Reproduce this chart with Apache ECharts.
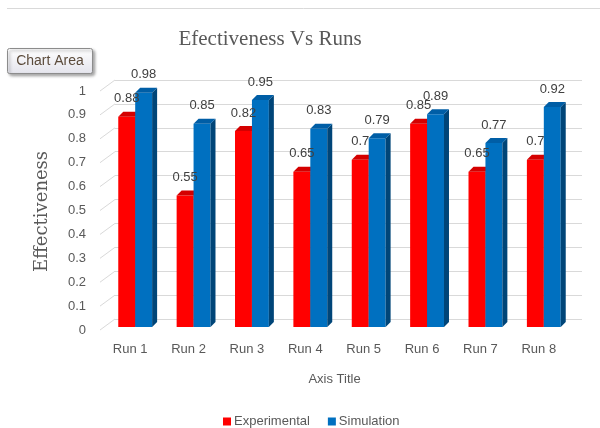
<!DOCTYPE html>
<html>
<head>
<meta charset="utf-8">
<script src="https://cdn.jsdelivr.net/npm/echarts@6/dist/echarts.min.js"></script>
<style>
  html, body { margin: 0; padding: 0; background: #fff; }
  #chart { width: 600px; height: 428px; }
</style>
</head>
<body>
<div id="chart"></div>
<script>
const categories = ['Run 1', 'Run 2', 'Run 3', 'Run 4', 'Run 5', 'Run 6', 'Run 7', 'Run 8'];
const experimental = [0.88, 0.55, 0.82, 0.65, 0.7, 0.85, 0.65, 0.7];
const simulation = [0.98, 0.85, 0.95, 0.83, 0.79, 0.89, 0.77, 0.92];
const yTicks = [0, 0.1, 0.2, 0.3, 0.4, 0.5, 0.6, 0.7, 0.8, 0.9, 1];

const font = 'Liberation Sans, Arial, sans-serif';
const DX = 9, DY = 8, DEPTH = 5;

// 3d-ish column, value is read on the back wall, front face pushed down/left
function bar3d(front, top, side, pos) {
  return function (params, api) {
    const idx = api.value(0);
    const v = api.value(1);
    const p = api.coord([idx, v]);
    const base = api.coord([idx, 0]);
    const band = api.size([1, 0])[0];
    const w = band * 0.29;
    const cx = p[0] - DX;
    const x0 = pos === 0 ? cx - w : cx;
    const x1 = x0 + w;
    const yt = p[1] + DY;
    const yb = base[1] + DY;
    return {
      type: 'group',
      children: [
        { type: 'rect', shape: { x: x0, y: yt, width: w, height: yb - yt }, style: { fill: front } },
        { type: 'polygon', shape: { points: [[x1, yt], [x1 + DEPTH, yt - DEPTH], [x1 + DEPTH, yb - DEPTH], [x1, yb]] }, style: { fill: side } },
        { type: 'polygon', shape: { points: [[x0, yt], [x1, yt], [x1 + DEPTH, yt - DEPTH], [x0 + DEPTH, yt - DEPTH]] }, style: { fill: top } },
        { type: 'text', z2: 10, style: { text: String(v), x: x0 + w / 2, y: p[1] - 10, align: 'center', verticalAlign: 'middle', fill: '#404040', font: '13px ' + font } }
      ]
    };
  };
}

const chart = echarts.init(document.getElementById('chart'));
chart.setOption({
  backgroundColor: '#fff',
  animation: false,
  title: {
    text: 'Efectiveness Vs Runs',
    left: 265,
    top: 24,
    textAlign: 'center',
    textStyle: { fontFamily: 'Liberation Serif, Times New Roman, serif', fontSize: 21, fontWeight: 'normal', color: '#595959' }
  },
  legend: {
    data: ['Experimental', 'Simulation'],
    left: 218,
    top: 410,
    icon: 'rect',
    itemWidth: 8,
    itemHeight: 8,
    itemGap: 18,
    textStyle: { fontFamily: font, fontSize: 13, color: '#595959', padding: [0, 0, 0, -2] }
  },
  grid: { left: 115, right: 18, top: 80, bottom: 109 },
  xAxis: {
    type: 'category',
    data: categories,
    name: 'Axis Title',
    nameLocation: 'middle',
    nameGap: 54,
    nameTextStyle: { fontFamily: font, fontSize: 13, color: '#595959', padding: [0, 28, 0, 0] },
    axisLine: { show: false },
    axisTick: { show: false },
    axisLabel: { margin: 24, fontFamily: font, fontSize: 13, color: '#595959', padding: [0, 28, 0, 0] }
  },
  yAxis: {
    type: 'value',
    min: 0,
    max: 1,
    interval: 0.1,
    name: 'Effectiveness',
    nameLocation: 'middle',
    nameGap: 64,
    nameTextStyle: { fontFamily: 'DejaVu Serif, serif', fontSize: 18, color: '#595959', padding: [0, 24, 0, 0] },
    axisLine: { show: false },
    axisTick: { show: false },
    axisLabel: { show: false },
    splitLine: { lineStyle: { color: '#D9D9D9', width: 1 } }
  },
  graphic: [
    { type: 'line', shape: { x1: 7, y1: 8.5, x2: 600, y2: 8.5 }, style: { stroke: '#D9D9D9', lineWidth: 1 } },
    {
      type: 'group', left: 7, top: 48,
      children: [
        { type: 'rect', shape: { x: 0, y: 0, width: 85, height: 25, r: 2 },
          style: { fill: new echarts.graphic.LinearGradient(0, 0, 0, 1, [{ offset: 0, color: '#ffffff' }, { offset: 1, color: '#E4E4EC' }]),
            stroke: '#8C8C8C', lineWidth: 1, shadowBlur: 3, shadowOffsetX: 2, shadowOffsetY: 2, shadowColor: 'rgba(0,0,0,0.35)' } },
        { type: 'text', style: { text: 'Chart Area', x: 42.5, y: 13, align: 'center', verticalAlign: 'middle', fill: '#5B4B3B', font: '14px ' + font } }
      ]
    }
  ],
  series: [
    {
      // floor diagonals and tick labels sitting at the front edge
      name: 'floor',
      type: 'custom',
      silent: true,
      data: yTicks.map(v => [0, v]),
      renderItem: function (params, api) {
        const v = api.value(1);
        const p = api.coord([0, v]);
        const left = p[0] - api.size([1, 0])[0] / 2;
        return {
          type: 'group',
          children: [
            { type: 'line', shape: { x1: left - 15, y1: p[1] + 11, x2: left, y2: p[1] }, style: { stroke: '#D9D9D9', lineWidth: 1 } },
            { type: 'text', style: { text: String(v), x: left - 29, y: p[1] + 11, align: 'right', verticalAlign: 'middle', fill: '#595959', font: '13px ' + font } }
          ]
        };
      }
    },
    {
      name: 'Experimental',
      type: 'custom',
      itemStyle: { color: '#FF0000' },
      data: experimental.map((v, i) => [i, v]),
      renderItem: bar3d('#FF0000', '#D40000', '#B00000', 0)
    },
    {
      name: 'Simulation',
      type: 'custom',
      itemStyle: { color: '#0070C0' },
      data: simulation.map((v, i) => [i, v]),
      renderItem: bar3d('#0070C0', '#005EA6', '#004578', 1)
    }
  ]
});
</script>
</body>
</html>
